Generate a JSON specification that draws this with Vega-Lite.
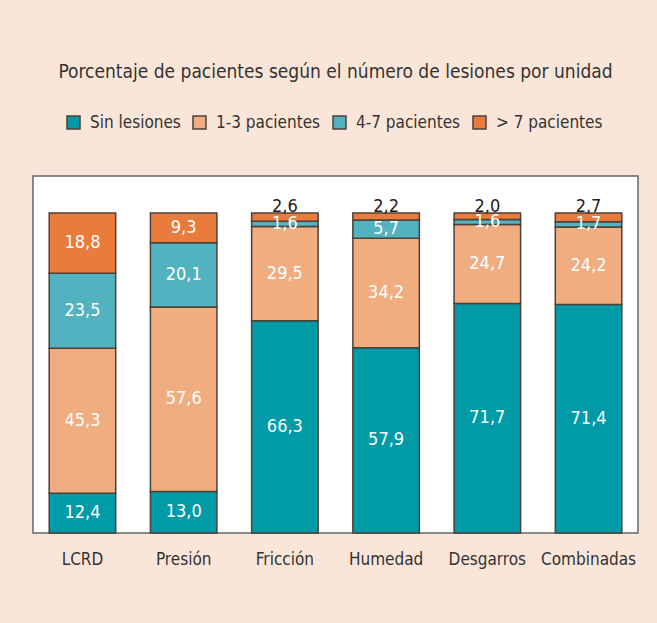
{
  "$schema": "https://vega.github.io/schema/vega-lite/v6.json",
  "width": 605,
  "height": 357,
  "autosize": {"type": "none"},
  "padding": {"left": 33, "top": 176, "right": 19, "bottom": 90},
  "background": "#fae6d8",
  "config": {
    "locale": {"number": {"decimal": ",", "thousands": ".", "grouping": [3], "currency": ["", "€"]}},
    "view": {"fill": "white", "stroke": "#666666", "strokeWidth": 1.5},
    "font": "'DejaVu Sans Condensed', Roboto, sans-serif"
  },
  "title": {
    "text": "Porcentaje de pacientes según el número de lesiones por unidad",
    "fontSize": 19,
    "font": "'DejaVu Sans Condensed', Roboto, sans-serif",
    "fontWeight": "normal",
    "color": "#333333",
    "anchor": "middle",
    "offset": 32
  },
  "data": {
    "values": [
      {"unidad": "LCRD", "cat": "Sin lesiones", "k": 1, "value": 12.4},
      {"unidad": "LCRD", "cat": "1-3 pacientes", "k": 2, "value": 45.3},
      {"unidad": "LCRD", "cat": "4-7 pacientes", "k": 3, "value": 23.5},
      {"unidad": "LCRD", "cat": "> 7 pacientes", "k": 4, "value": 18.8},
      {"unidad": "Presión", "cat": "Sin lesiones", "k": 1, "value": 13.0},
      {"unidad": "Presión", "cat": "1-3 pacientes", "k": 2, "value": 57.6},
      {"unidad": "Presión", "cat": "4-7 pacientes", "k": 3, "value": 20.1},
      {"unidad": "Presión", "cat": "> 7 pacientes", "k": 4, "value": 9.3},
      {"unidad": "Fricción", "cat": "Sin lesiones", "k": 1, "value": 66.3},
      {"unidad": "Fricción", "cat": "1-3 pacientes", "k": 2, "value": 29.5},
      {"unidad": "Fricción", "cat": "4-7 pacientes", "k": 3, "value": 1.6},
      {"unidad": "Fricción", "cat": "> 7 pacientes", "k": 4, "value": 2.6},
      {"unidad": "Humedad", "cat": "Sin lesiones", "k": 1, "value": 57.9},
      {"unidad": "Humedad", "cat": "1-3 pacientes", "k": 2, "value": 34.2},
      {"unidad": "Humedad", "cat": "4-7 pacientes", "k": 3, "value": 5.7},
      {"unidad": "Humedad", "cat": "> 7 pacientes", "k": 4, "value": 2.2},
      {"unidad": "Desgarros", "cat": "Sin lesiones", "k": 1, "value": 71.7},
      {"unidad": "Desgarros", "cat": "1-3 pacientes", "k": 2, "value": 24.7},
      {"unidad": "Desgarros", "cat": "4-7 pacientes", "k": 3, "value": 1.6},
      {"unidad": "Desgarros", "cat": "> 7 pacientes", "k": 4, "value": 2.0},
      {"unidad": "Combinadas", "cat": "Sin lesiones", "k": 1, "value": 71.4},
      {"unidad": "Combinadas", "cat": "1-3 pacientes", "k": 2, "value": 24.2},
      {"unidad": "Combinadas", "cat": "4-7 pacientes", "k": 3, "value": 1.7},
      {"unidad": "Combinadas", "cat": "> 7 pacientes", "k": 4, "value": 2.7}
    ]
  },
  "transform": [
    {"stack": "value", "groupby": ["unidad"], "sort": [{"field": "k", "order": "ascending"}], "as": ["y0", "y1"]},
    {"calculate": "(datum.y0 + datum.y1) / 2", "as": "ym"}
  ],
  "encoding": {
    "x": {
      "field": "unidad",
      "type": "nominal",
      "sort": ["LCRD", "Presión", "Fricción", "Humedad", "Desgarros", "Combinadas"],
      "scale": {"paddingInner": 0.343, "paddingOuter": 0.16},
      "axis": {"title": null, "labelAngle": 0, "ticks": false, "domain": false, "labelFontSize": 17, "labelColor": "#333333", "labelPadding": 18, "labelFont": "'DejaVu Sans Condensed', Roboto, sans-serif"}
    }
  },
  "layer": [
    {
      "mark": {"type": "bar", "stroke": "#4d4039", "strokeWidth": 1.5},
      "encoding": {
        "y": {"field": "y0", "type": "quantitative", "scale": {"domain": [0, 111.56]}, "axis": null},
        "y2": {"field": "y1"},
        "fill": {
          "field": "cat",
          "type": "nominal",
          "scale": {"domain": ["Sin lesiones", "1-3 pacientes", "4-7 pacientes", "> 7 pacientes"], "range": ["#009ba7", "#f0ad80", "#52b2bf", "#e97c3c"]},
          "legend": {
            "title": null,
            "orient": "none",
            "legendX": 32,
            "legendY": -62,
            "direction": "horizontal",
            "symbolType": "square",
            "symbolSize": 169,
            "symbolStrokeColor": "#4d4039",
            "symbolStrokeWidth": 1.5,
            "symbolOpacity": 1,
            "labelFontSize": 17,
            "labelColor": "#333333",
            "labelFont": "'DejaVu Sans Condensed', Roboto, sans-serif",
            "labelOffset": 8,
            "columnPadding": 9
          }
        }
      }
    },
    {
      "transform": [{"filter": "!(datum.k == 4 && datum.value < 5)"}],
      "mark": {"type": "text", "color": "white", "fontSize": 18, "baseline": "middle", "font": "'DejaVu Sans Condensed', Roboto, sans-serif"},
      "encoding": {
        "y": {"field": "ym", "type": "quantitative", "scale": {"domain": [0, 111.56]}, "axis": null},
        "text": {"field": "value", "type": "quantitative", "format": ".1f"}
      }
    },
    {
      "transform": [{"filter": "datum.k == 4 && datum.value < 5"}],
      "mark": {"type": "text", "color": "#222222", "fontSize": 18, "baseline": "alphabetic", "dy": -1, "font": "'DejaVu Sans Condensed', Roboto, sans-serif"},
      "encoding": {
        "y": {"field": "y1", "type": "quantitative", "scale": {"domain": [0, 111.56]}, "axis": null},
        "text": {"field": "value", "type": "quantitative", "format": ".1f"}
      }
    }
  ]
}
